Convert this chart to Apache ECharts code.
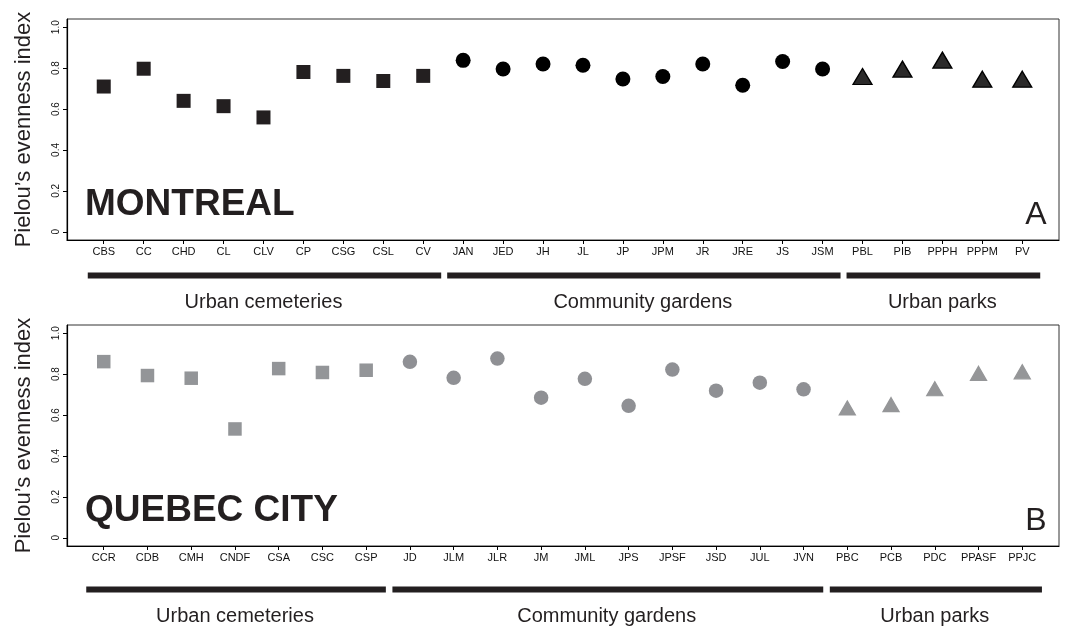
<!DOCTYPE html>
<html><head><meta charset="utf-8">
<script src="https://cdn.jsdelivr.net/npm/echarts@6/dist/echarts.min.js"></script>
<style>html,body{margin:0;padding:0;background:#fff}#c{width:1065px;height:628px}</style>
</head><body><div id="c"></div>
<script>
// ---- Data ----
const groupNames = ['Urban cemeteries', 'Community gardens', 'Urban parks'];
const yTicks = [0, 0.2, 0.4, 0.6, 0.8, 1.0];

// Montreal (panel A)
const mtlSites = ['CBS','CC','CHD','CL','CLV','CP','CSG','CSL','CV',
                  'JAN','JED','JH','JL','JP','JPM','JR','JRE','JS','JSM',
                  'PBL','PIB','PPPH','PPPM','PV'];
const mtlValues = [0.71,0.797,0.64,0.614,0.559,0.781,0.762,0.737,0.762,
                   0.838,0.796,0.82,0.814,0.747,0.759,0.82,0.716,0.832,0.796,
                   0.746,0.782,0.826,0.733,0.733];
const mtlGroupSizes = [9, 10, 5];

// Quebec City (panel B)
const qcSites = ['CCR','CDB','CMH','CNDF','CSA','CSC','CSP',
                 'JD','JLM','JLR','JM','JML','JPS','JPSF','JSD','JUL','JVN',
                 'PBC','PCB','PDC','PPASF','PPJC'];
const qcValues = [0.861,0.793,0.78,0.532,0.827,0.808,0.819,
                  0.86,0.782,0.876,0.685,0.777,0.645,0.822,0.719,0.758,0.726,
                  0.623,0.639,0.717,0.792,0.80];
const qcGroupSizes = [7, 10, 5];

// ---- Build chart ----
const FONT = 'Liberation Sans, Arial, sans-serif';
const panels = [
  {sites: mtlSites, values: mtlValues, sizes: mtlGroupSizes, top: 19, barTop: 265, city: 'MONTREAL', letter: 'A',
   colors: ['#231f20', '#000000', '#2b2a2a'], symSizes: [14, 15, [19, 16]], triBorder: '#000'},
  {sites: qcSites, values: qcValues, sizes: qcGroupSizes, top: 325, barTop: 579, city: 'QUEBEC CITY', letter: 'B',
   colors: ['#939598', '#8f9094', '#959698'], symSizes: [13.5, 14.5, [16, 14]], triBorder: '#959698'}
];
const symbols = ['rect', 'circle', 'triangle'];

const grid = [], xAxis = [], yAxis = [], series = [], graphic = [];
panels.forEach((p, pi) => {
  const n = p.sites.length;
  const xmin = 1 - 0.04 * (n - 1), xmax = n + 0.04 * (n - 1);
  const idx = p.sites.map((s, i) => i + 1);
  const gMain = grid.length;
  grid.push({left: 67, top: p.top, width: 992, height: 221, show: true, borderColor: '#333', borderWidth: 1});
  xAxis.push({type: 'value', gridIndex: gMain, min: xmin, max: xmax,
    axisLine: {show: true, onZero: false, lineStyle: {color: '#000', width: 1.2}},
    axisTick: {show: true, customValues: idx, length: 4, lineStyle: {color: '#000'}},
    axisLabel: {show: true, customValues: idx, formatter: v => p.sites[Math.round(v) - 1] || '', fontSize: 11, color: '#111', margin: 6, fontFamily: FONT},
    splitLine: {show: false}});
  yAxis.push({type: 'value', gridIndex: gMain, min: -0.04, max: 1.04,
    axisLine: {show: true, onZero: false, lineStyle: {color: '#000', width: 1.2}},
    axisTick: {show: true, customValues: yTicks, length: 4, lineStyle: {color: '#000'}},
    axisLabel: {show: true, customValues: yTicks, rotate: 90, formatter: v => v === 0 ? '0' : v.toFixed(1), fontSize: 10, color: '#111', margin: 6, fontFamily: FONT},
    splitLine: {show: false}});
  // bars grid
  const gBar = grid.length;
  grid.push({left: 67, top: p.barTop, width: 992, height: 21, show: false});
  xAxis.push({type: 'value', gridIndex: gBar, min: xmin, max: xmax, show: false});
  yAxis.push({type: 'value', gridIndex: gBar, min: -1, max: 1, show: false});

  let start = 0;
  p.sizes.forEach((sz, gi) => {
    const data = [];
    for (let k = start; k < start + sz; k++) data.push([k + 1, p.values[k]]);
    const isTri = gi === 2;
    series.push({type: 'scatter', xAxisIndex: gMain, yAxisIndex: gMain, symbol: symbols[gi],
      symbolSize: p.symSizes[gi], symbolOffset: isTri ? [0, '-16.7%'] : [0, 0],
      itemStyle: {color: p.colors[gi], opacity: 1, borderColor: isTri ? p.triBorder : 'transparent', borderWidth: isTri ? 1.3 : 0},
      data: data, silent: true, z: 3});
    const first = start + 1, last = start + sz;
    series.push({type: 'line', xAxisIndex: gBar, yAxisIndex: gBar, showSymbol: false, symbol: 'none',
      lineStyle: {color: '#231f20', width: 6, cap: 'butt'}, silent: true,
      data: [[first - 0.4, 0], [last + 0.45, 0]]});
    series.push({type: 'scatter', xAxisIndex: gBar, yAxisIndex: gBar, symbolSize: 1,
      itemStyle: {color: 'rgba(0,0,0,0)'}, silent: true,
      label: {show: true, position: 'bottom', distance: 16, formatter: groupNames[gi], fontSize: 20, color: '#231f20', opacity: 1, textBorderWidth: 0, fontFamily: FONT},
      data: [[(first + last) / 2, 0]]});
    start += sz;
  });

  const midY = p.top + 110.5;
  graphic.push({type: 'text', x: 24, y: midY, rotation: Math.PI / 2,
    style: {text: 'Pielou\u2019s evenness index', fontSize: 22, fill: '#231f20', align: 'center', verticalAlign: 'middle', fontFamily: FONT}});
  graphic.push({type: 'text', x: 85, y: p.top + 186,
    style: {text: p.city, fontSize: 37, fontWeight: 'bold', fill: '#231f20', align: 'left', verticalAlign: 'middle', fontFamily: FONT}});
  graphic.push({type: 'text', x: 1036, y: p.top + 196,
    style: {text: p.letter, fontSize: 32, fill: '#231f20', align: 'center', verticalAlign: 'middle', fontFamily: FONT}});
});

const chart = echarts.init(document.getElementById('c'), null, {renderer: 'canvas'});
chart.setOption({animation: false, backgroundColor: '#fff', grid, xAxis, yAxis, series, graphic});
</script>
</body></html>
